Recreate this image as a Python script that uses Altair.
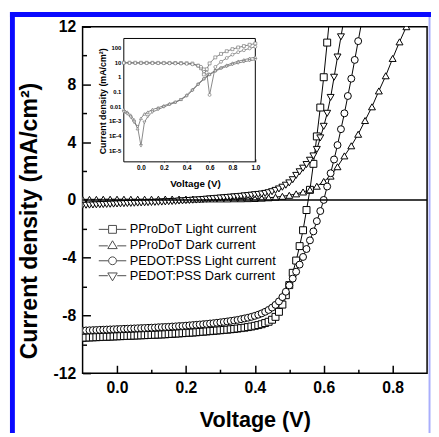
import altair as alt
import pandas as pd

FONT = "Liberation Sans"

SERIES = ["PProDoT Light current", "PProDoT Dark current",
          "PEDOT:PSS Light current", "PEDOT:PSS Dark current"]

V_STEP01 = [-0.10, -0.09, -0.08, -0.07, -0.06, -0.05, -0.04, -0.03, -0.02, -0.01,
            0.00, 0.01, 0.02, 0.03, 0.04, 0.05, 0.06, 0.07, 0.08, 0.09,
            0.10, 0.11, 0.12, 0.13, 0.14, 0.15, 0.16, 0.17, 0.18, 0.19,
            0.20, 0.21, 0.22, 0.23, 0.24, 0.25, 0.26, 0.27, 0.28, 0.29,
            0.30, 0.31, 0.32, 0.33, 0.34, 0.35, 0.36, 0.37, 0.38, 0.39,
            0.40, 0.41, 0.42, 0.43, 0.44, 0.45, 0.46, 0.47, 0.48, 0.49,
            0.50, 0.51, 0.52, 0.53, 0.54, 0.55, 0.56, 0.57, 0.58, 0.59,
            0.60, 0.61, 0.62, 0.63, 0.64, 0.65, 0.66, 0.67, 0.68, 0.69,
            0.70, 0.71]

V_STEP02 = [-0.10, -0.08, -0.06, -0.04, -0.02, 0.00, 0.02, 0.04, 0.06, 0.08,
            0.10, 0.12, 0.14, 0.16, 0.18, 0.20, 0.22, 0.24, 0.26, 0.28,
            0.30, 0.32, 0.34, 0.36, 0.38, 0.40, 0.42, 0.44, 0.46, 0.48,
            0.50, 0.52, 0.54, 0.56, 0.58, 0.60, 0.62, 0.64, 0.66, 0.68,
            0.70, 0.72, 0.74, 0.76, 0.78, 0.80, 0.82, 0.84]

J_PPRO_LIGHT = [-9.55, -9.54, -9.53, -9.52, -9.51, -9.50, -9.49, -9.48, -9.47, -9.46,
                -9.45, -9.44, -9.43, -9.42, -9.41, -9.40, -9.39, -9.38, -9.37, -9.36,
                -9.35, -9.34, -9.33, -9.32, -9.31, -9.29, -9.28, -9.26, -9.25, -9.23,
                -9.22, -9.20, -9.19, -9.17, -9.15, -9.13, -9.11, -9.09, -9.07, -9.05,
                -9.03, -9.01, -8.99, -8.96, -8.94, -8.91, -8.88, -8.85, -8.81, -8.77,
                -8.72, -8.67, -8.61, -8.53, -8.44, -8.30, -8.10, -7.75, -7.25, -6.60,
                -5.90, -5.05, -4.20, -3.20, -2.10, -0.70, 0.70, 2.50, 4.40, 6.40,
                8.50, 10.90, 13.30]

J_PEDOT_LIGHT = [-9.05, -9.04, -9.03, -9.02, -9.01, -9.00, -8.99, -8.98, -8.97, -8.96,
                 -8.95, -8.94, -8.93, -8.92, -8.91, -8.90, -8.89, -8.88, -8.87, -8.86,
                 -8.85, -8.84, -8.82, -8.81, -8.80, -8.79, -8.77, -8.76, -8.74, -8.73,
                 -8.71, -8.69, -8.67, -8.65, -8.63, -8.61, -8.59, -8.56, -8.54, -8.51,
                 -8.48, -8.45, -8.42, -8.38, -8.35, -8.31, -8.26, -8.21, -8.16, -8.10,
                 -8.03, -7.95, -7.86, -7.75, -7.62, -7.46, -7.27, -7.03, -6.73, -6.36,
                 -5.92, -5.45, -4.97, -4.48, -3.95, -3.40, -2.80, -2.18, -1.47, -0.77,
                 0.00, 0.93, 1.85, 2.80, 3.80, 4.90, 6.00, 7.20, 8.40, 9.70,
                 11.00, 12.30]

J_PEDOT_DARK = [-0.38, -0.37, -0.36, -0.35, -0.34, -0.33, -0.32, -0.31, -0.30, -0.29,
                -0.28, -0.27, -0.26, -0.25, -0.24, -0.23, -0.22, -0.21, -0.20, -0.19,
                -0.18, -0.17, -0.16, -0.15, -0.14, -0.12, -0.11, -0.10, -0.08, -0.07,
                -0.05, -0.04, -0.02, -0.01, 0.01, 0.03, 0.05, 0.07, 0.09, 0.11,
                0.13, 0.15, 0.17, 0.19, 0.21, 0.23, 0.25, 0.28, 0.30, 0.33,
                0.36, 0.38, 0.41, 0.45, 0.50, 0.57, 0.66, 0.76, 0.88, 1.02,
                1.18, 1.40, 1.70, 1.95, 2.20, 2.45, 2.75, 3.05, 3.50, 4.30,
                5.10, 6.00, 7.10, 8.50, 9.90, 11.30, 12.70]

J_PPRO_DARK = [0.04, 0.04, 0.04, 0.05, 0.05, 0.05, 0.05, 0.05, 0.05, 0.05,
               0.05, 0.05, 0.06, 0.06, 0.06, 0.06, 0.06, 0.06, 0.07, 0.07,
               0.07, 0.07, 0.08, 0.08, 0.09, 0.10, 0.12, 0.15, 0.19, 0.25,
               0.32, 0.42, 0.55, 0.70, 0.95, 1.28, 1.65, 2.30, 3.05, 3.75,
               4.55, 5.50, 6.45, 7.55, 8.60, 9.80, 10.95, 12.00]

IN_V_LIGHT = [-0.15, -0.10, -0.05, 0.00, 0.05, 0.10, 0.15, 0.20, 0.25, 0.30,
              0.35, 0.40, 0.45, 0.50, 0.525, 0.55, 0.575, 0.60, 0.65, 0.70,
              0.75, 0.80, 0.85, 0.90, 0.95, 1.00]
IN_PPRO_LIGHT = [9.6, 9.55, 9.5, 9.45, 9.4, 9.35, 9.3, 9.25, 9.2, 9.1,
                 9.0, 8.75, 8.3, 6.0, 4.0, 1.5, 3.4, 8.5, 22, 38,
                 58, 80, 105, 130, 160, 195]
IN_PEDOT_LIGHT = [9.1, 9.05, 9.0, 8.95, 8.9, 8.85, 8.8, 8.7, 8.6, 8.5,
                  8.3, 8.0, 7.4, 5.9, 5.0, 3.4, 2.0, 0.06, 4.9, 11,
                  20, 34, 50, 68, 90, 117]
IN_V_DARK = [-0.15, -0.12, -0.09, -0.06, -0.03, 0.00, 0.03, 0.06, 0.10, 0.15,
             0.20, 0.25, 0.30, 0.35, 0.40, 0.45, 0.50, 0.55, 0.60, 0.65,
             0.70, 0.75, 0.80, 0.85, 0.90, 0.95, 1.00]
IN_PPRO_DARK = [0.006, 0.004, 0.0025, 0.0012, 0.0003, 0.0015, 0.003, 0.004, 0.006, 0.008,
                0.011, 0.015, 0.02, 0.03, 0.06, 0.14, 0.35, 0.8, 1.6, 2.8,
                4.5, 6.5, 9, 12, 15, 19, 23]
IN_PEDOT_DARK = [0.004, 0.003, 0.0018, 0.0008, 0.0004, 0.00002, 0.0008, 0.002, 0.004, 0.006,
                 0.009, 0.013, 0.018, 0.028, 0.05, 0.12, 0.3, 0.7, 1.4, 2.5,
                 3.8, 5.2, 7, 9, 11, 13, 15]

X_TICKS = [0.0, 0.2, 0.4, 0.6, 0.8]
X_MINOR = [0.1, 0.3, 0.5, 0.7]
Y_TICKS = [-12, -8, -4, 0, 4, 8, 12]
Y_MINOR = [-10, -6, -2, 2, 6, 10]
IN_X_TICKS = [0.0, 0.2, 0.4, 0.6, 0.8, 1.0]
IN_Y_TICKS = [100, 10, 1, 0.1, 0.01, 0.001, 0.0001, 0.00001]
IN_X_DOMAIN = [-0.15, 1.0]
IN_Y_DOMAIN = [1.6e-6, 430]


def rows(vs, js, name):
    assert len(vs) == len(js), name
    return [{"V": v, "J": j, "series": name} for v, j in zip(vs, js)]


main_rows = (rows(V_STEP01[:len(J_PPRO_LIGHT)], J_PPRO_LIGHT, SERIES[0])
             + rows(V_STEP02, J_PPRO_DARK, SERIES[1])
             + rows(V_STEP01, J_PEDOT_LIGHT, SERIES[2])
             + rows(V_STEP01[:len(J_PEDOT_DARK)], J_PEDOT_DARK, SERIES[3]))
main_df = pd.DataFrame(main_rows)

inset_rows = (rows(IN_V_LIGHT, IN_PPRO_LIGHT, SERIES[0])
              + rows(IN_V_DARK, IN_PPRO_DARK, SERIES[1])
              + rows(IN_V_LIGHT, IN_PEDOT_LIGHT, SERIES[2])
              + rows(IN_V_DARK, IN_PEDOT_DARK, SERIES[3]))
inset_df = pd.DataFrame(inset_rows)

W, H = 351, 353
IN_LEFT, IN_RIGHT, IN_TOP, IN_BOTTOM = 42, 176, 12, 137.7

X_MAIN = alt.Scale(domain=[-0.1, 0.9], nice=False, zero=False)
Y_MAIN = alt.Scale(domain=[-12, 12], nice=False, zero=False)
X_IN = alt.Scale(domain=IN_X_DOMAIN, range=[IN_LEFT, IN_RIGHT], nice=False, zero=False)
Y_IN = alt.Scale(type="log", domain=IN_Y_DOMAIN, range=[IN_BOTTOM, IN_TOP], nice=False)

SHAPES = ["square", "triangle-up", "circle", "triangle-down"]
LG_LINE = "M-1.75,0H-0.55M0.55,0H1.75"
LEGEND_PATHS = [
    LG_LINE + "M-0.5,-0.5H0.5V0.5H-0.5Z",
    "M-1.75,0.1H-0.6M0.6,0.1H1.75M0,-0.55L0.6,0.45L-0.6,0.45Z",
    LG_LINE + "M0.5,0A0.5,0.5,0,1,1,-0.5,0A0.5,0.5,0,1,1,0.5,0Z",
    "M-1.75,-0.1H-0.6M0.6,-0.1H1.75M0,0.55L0.6,-0.45L-0.6,-0.45Z",
]

no_axis = None

main_lines = alt.Chart(main_df).mark_line(color="black", strokeWidth=1, clip=True).encode(
    x=alt.X("V:Q", scale=X_MAIN, axis=alt.Axis(
        orient="bottom", values=X_TICKS, format=".1f", ticks=False, domain=False, grid=False,
        labelFont=FONT, labelFontSize=16, labelFontWeight="bold", labelColor="black",
        labelPadding=7, labelFlush=False,
        title="Voltage (V)", titleFont=FONT, titleFontSize=22, titleFontWeight="bold",
        titleColor="black", titleX=W / 2, titleY=47, titleAlign="center", titleBaseline="middle")),
    y=alt.Y("J:Q", scale=Y_MAIN, axis=alt.Axis(
        orient="left", values=Y_TICKS, labelExpr="'' + datum.value", ticks=False, domain=False,
        grid=False, labelFont=FONT, labelFontSize=16, labelFontWeight="bold", labelColor="black",
        labelPadding=7, labelFlush=False,
        title="Current density (mA/cm²)", titleFont=FONT, titleFontSize=23.5,
        titleFontWeight="bold", titleColor="black", titleX=-53.5, titleY=197.5,
        titleAngle=270, titleAlign="center", titleBaseline="middle")),
    detail="series:N",
)

main_points = alt.Chart(main_df).mark_point(
    filled=True, fill="white", stroke="black", strokeWidth=1, size=50, opacity=1, clip=True
).encode(
    x=alt.X("V:Q", scale=X_MAIN, axis=no_axis),
    y=alt.Y("J:Q", scale=Y_MAIN, axis=no_axis),
    shape=alt.Shape("series:N", scale=alt.Scale(domain=SERIES, range=SHAPES), legend=None),
)

zero_line = alt.Chart(pd.DataFrame({"J": [0.0]})).mark_rule(color="black", strokeWidth=1.5).encode(
    y=alt.Y("J:Q", scale=Y_MAIN, axis=no_axis)
)


def tick_layer(xvals, yvals, size):
    return alt.Chart(main_df).mark_point(opacity=0).encode(
        x=alt.X("V:Q", scale=X_MAIN, axis=alt.Axis(
            orient="bottom", values=xvals, offset=-size, tickSize=size, tickWidth=1.5,
            tickColor="black", labels=False, domain=False, grid=False, title=None)),
        y=alt.Y("J:Q", scale=Y_MAIN, axis=alt.Axis(
            orient="left", values=yvals, offset=-size, tickSize=size, tickWidth=1.5,
            tickColor="black", labels=False, domain=False, grid=False, title=None)),
    )


major_ticks = tick_layer(X_TICKS, Y_TICKS, 8)
minor_ticks = tick_layer(X_MINOR, Y_MINOR, 4)

# legend built from the shape scale only (this layer draws no data)
legend_layer = alt.Chart(main_df).transform_filter("datum.V > 100").mark_point(
    filled=False, strokeWidth=1, color="black"
).encode(
    x=alt.X("V:Q", scale=X_MAIN, axis=no_axis),
    y=alt.Y("J:Q", scale=Y_MAIN, axis=no_axis),
    shape=alt.Shape("series:N", scale=alt.Scale(domain=SERIES, range=LEGEND_PATHS),
                    legend=alt.Legend(
                        orient="none", legendX=22, legendY=198, title=None,
                        labelFont=FONT, labelFontSize=13, labelColor="black", labelLimit=300,
                        labelOffset=9, symbolSize=256, symbolStrokeWidth=1,
                        rowPadding=0, padding=0)),
)

inset_box = alt.Chart(pd.DataFrame({"x1": [IN_X_DOMAIN[0]], "x2": [IN_X_DOMAIN[1]],
                                    "y1": [IN_Y_DOMAIN[0]], "y2": [IN_Y_DOMAIN[1]]})).mark_rect(
    fill="white", stroke="black", strokeWidth=1
).encode(
    x=alt.X("x1:Q", scale=X_IN, axis=no_axis), x2="x2:Q",
    y=alt.Y("y1:Q", scale=Y_IN, axis=no_axis), y2="y2:Q",
)

inset_lines = alt.Chart(inset_df).mark_line(color="#555555", strokeWidth=0.7).encode(
    x=alt.X("V:Q", scale=X_IN, axis=alt.Axis(
        orient="bottom", offset=-(H - IN_BOTTOM), values=IN_X_TICKS, format=".1f",
        ticks=False, domain=False, grid=False, labelFont=FONT, labelFontSize=6.5,
        labelFontWeight="bold", labelColor="black", labelPadding=3, labelFlush=False,
        title="Voltage (V)", titleFont=FONT, titleFontSize=10, titleFontWeight="bold",
        titleColor="black", titleX=114.5, titleY=22, titleAlign="center", titleBaseline="middle")),
    y=alt.Y("J:Q", scale=Y_IN, axis=alt.Axis(
        orient="left", offset=-IN_LEFT, values=IN_Y_TICKS,
        labelExpr="datum.value >= 0.01 ? '' + datum.value : '1E-' + round(-log(datum.value) / LN10)",
        ticks=False, domain=False, grid=False, labelFont=FONT, labelFontSize=6,
        labelFontWeight="bold", labelColor="black", labelPadding=3, labelFlush=False,
        labelOverlap=False,
        title="Current density (mA/cm²)", titleFont=FONT, titleFontSize=9,
        titleFontWeight="bold", titleColor="black", titleX=-21.5, titleY=75.5,
        titleAngle=270, titleAlign="center", titleBaseline="middle")),
    detail="series:N",
)

inset_points = alt.Chart(inset_df).mark_point(
    filled=True, fill="white", stroke="#666666", strokeWidth=0.6, size=9, opacity=1
).encode(
    x=alt.X("V:Q", scale=X_IN, axis=no_axis),
    y=alt.Y("J:Q", scale=Y_IN, axis=no_axis),
    shape=alt.Shape("series:N", scale=alt.Scale(domain=SERIES, range=SHAPES), legend=None),
)

inset_ticks = alt.Chart(inset_df).mark_point(opacity=0).encode(
    x=alt.X("V:Q", scale=X_IN, axis=alt.Axis(
        orient="bottom", values=IN_X_TICKS, offset=-(H - IN_BOTTOM) - 3, tickSize=3,
        tickColor="black", labels=False, domain=False, grid=False, title=None)),
    y=alt.Y("J:Q", scale=Y_IN, axis=alt.Axis(
        orient="left", values=IN_Y_TICKS, offset=-IN_LEFT - 3, tickSize=3,
        tickColor="black", labels=False, domain=False, grid=False, title=None)),
)

deco = pd.DataFrame({"k": [0]})
left_bar = alt.Chart(deco).mark_rule(color="#0a0aff", strokeWidth=5).encode(
    x=alt.value(-71.5), y=alt.value(-15), y2=alt.value(414))
top_bar = alt.Chart(deco).mark_rule(color="#0a0aff", strokeWidth=5).encode(
    x=alt.value(-74), x2=alt.value(356), y=alt.value(-12.5))
right_line = alt.Chart(deco).mark_rule(color="#a9aefc", strokeWidth=2).encode(
    x=alt.value(353.5), y=alt.value(-10), y2=alt.value(414))

chart = alt.layer(
    main_lines, main_points, zero_line, major_ticks, minor_ticks, legend_layer,
    inset_box, inset_lines, inset_points, inset_ticks,
    left_bar, top_bar, right_line,
).resolve_scale(
    x="independent", y="independent", shape="independent"
).resolve_axis(
    x="independent", y="independent"
).resolve_legend(
    shape="independent"
).properties(
    width=W, height=H,
    autosize=alt.AutoSizeParams(type="none"),
    padding={"left": 76, "top": 15, "right": 4, "bottom": 61},
    background="white",
).configure_view(
    stroke="black", strokeWidth=1.5
).configure_axis(grid=False)

chart.save("out.html", embed_options={"renderer": "svg", "actions": False})
